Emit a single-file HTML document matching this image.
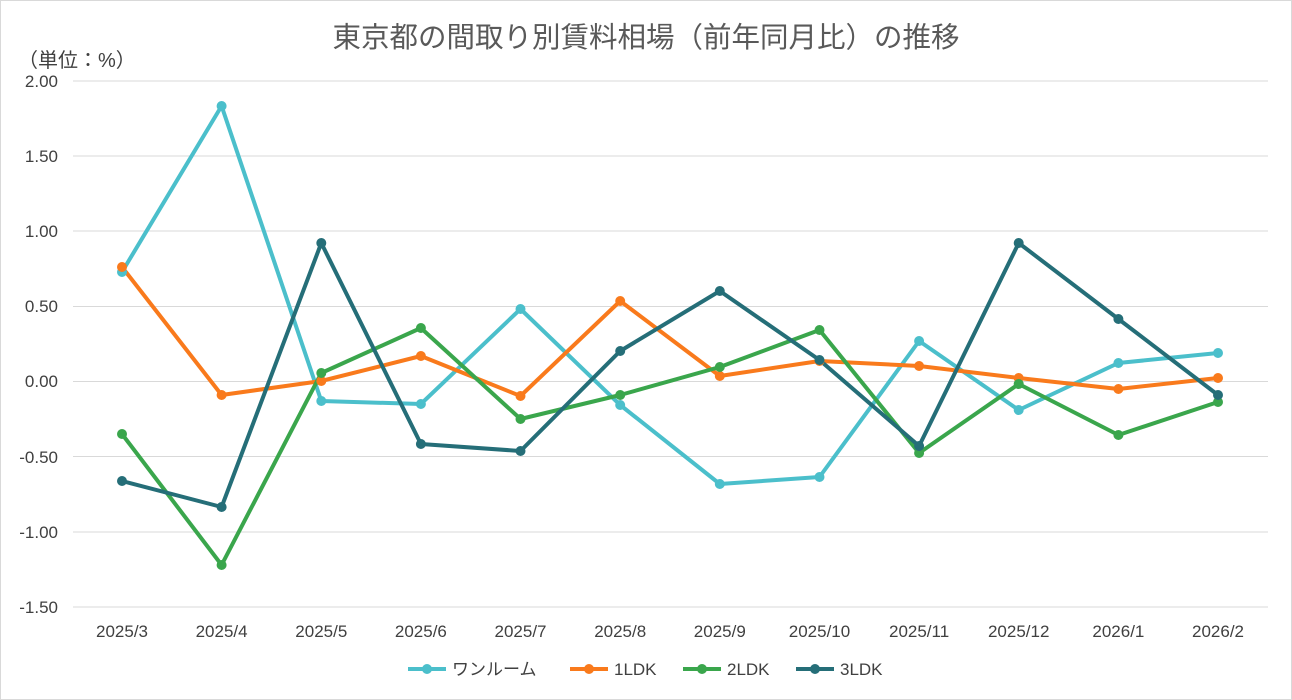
<!DOCTYPE html>
<html><head><meta charset="utf-8"><style>
body{margin:0;background:#fff;}
svg{display:block;font-family:"Liberation Sans","Noto Sans CJK JP",sans-serif;}
</style></head><body>
<svg width="1292" height="700" viewBox="0 0 1292 700">
<rect x="0.5" y="0.5" width="1291" height="699" fill="#fff" stroke="#d9d9d9"/>
<text x="646" y="47" text-anchor="middle" font-size="28.5" fill="#595959">東京都の間取り別賃料相場（前年同月比）の推移</text>
<text x="18" y="67" font-size="20" fill="#404040">（単位：%）</text>
<g stroke="#d9d9d9" stroke-width="1">
<line x1="73" y1="81" x2="1268" y2="81"/><line x1="73" y1="156" x2="1268" y2="156"/>
<line x1="73" y1="231" x2="1268" y2="231"/><line x1="73" y1="306.5" x2="1268" y2="306.5"/>
<line x1="73" y1="456.5" x2="1268" y2="456.5"/>
<line x1="73" y1="532" x2="1268" y2="532"/><line x1="73" y1="607" x2="1268" y2="607"/>
</g>
<line x1="73" y1="381.5" x2="1268" y2="381.5" stroke="#d9d9d9"/>
<g font-size="17" fill="#404040" text-anchor="end">
<text x="58" y="87">2.00</text><text x="58" y="162">1.50</text><text x="58" y="237">1.00</text>
<text x="58" y="312">0.50</text><text x="58" y="387">0.00</text><text x="58" y="463">-0.50</text>
<text x="58" y="538">-1.00</text><text x="58" y="613">-1.50</text>
</g>
<g font-size="17" fill="#404040" text-anchor="middle">
<text x="122" y="637">2025/3</text><text x="221.6" y="637">2025/4</text><text x="321.3" y="637">2025/5</text>
<text x="420.9" y="637">2025/6</text><text x="520.5" y="637">2025/7</text><text x="620.2" y="637">2025/8</text>
<text x="719.8" y="637">2025/9</text><text x="819.5" y="637">2025/10</text><text x="919.1" y="637">2025/11</text>
<text x="1018.7" y="637">2025/12</text><text x="1118.4" y="637">2026/1</text><text x="1218" y="637">2026/2</text>
</g>
<g fill="none" stroke-width="4" stroke-linejoin="round">
<polyline stroke="#4bbfcb" points="122,272 221.6,106 321.3,401 420.9,404 520.5,309 620.2,405 719.8,484 819.5,477 919.1,341 1018.7,410 1118.4,363 1218,353"/>
<polyline stroke="#f97a1c" points="122,267 221.6,395 321.3,381 420.9,356 520.5,396 620.2,301 719.8,376 819.5,361 919.1,366 1018.7,378 1118.4,389 1218,378"/>
<polyline stroke="#3aa64c" points="122,434 221.6,565 321.3,373 420.9,328 520.5,419 620.2,395 719.8,367 819.5,330 919.1,453 1018.7,384 1118.4,435 1218,402"/>
<polyline stroke="#256e78" points="122,481 221.6,507 321.3,243 420.9,444 520.5,451 620.2,351 719.8,291 819.5,360 919.1,446 1018.7,243 1118.4,319 1218,395"/>
</g>
<g fill="#4bbfcb"><circle cx="122" cy="272" r="5"/><circle cx="221.6" cy="106" r="5"/><circle cx="321.3" cy="401" r="5"/><circle cx="420.9" cy="404" r="5"/><circle cx="520.5" cy="309" r="5"/><circle cx="620.2" cy="405" r="5"/><circle cx="719.8" cy="484" r="5"/><circle cx="819.5" cy="477" r="5"/><circle cx="919.1" cy="341" r="5"/><circle cx="1018.7" cy="410" r="5"/><circle cx="1118.4" cy="363" r="5"/><circle cx="1218" cy="353" r="5"/></g>
<g fill="#f97a1c"><circle cx="122" cy="267" r="5"/><circle cx="221.6" cy="395" r="5"/><circle cx="321.3" cy="381" r="5"/><circle cx="420.9" cy="356" r="5"/><circle cx="520.5" cy="396" r="5"/><circle cx="620.2" cy="301" r="5"/><circle cx="719.8" cy="376" r="5"/><circle cx="819.5" cy="361" r="5"/><circle cx="919.1" cy="366" r="5"/><circle cx="1018.7" cy="378" r="5"/><circle cx="1118.4" cy="389" r="5"/><circle cx="1218" cy="378" r="5"/></g>
<g fill="#3aa64c"><circle cx="122" cy="434" r="5"/><circle cx="221.6" cy="565" r="5"/><circle cx="321.3" cy="373" r="5"/><circle cx="420.9" cy="328" r="5"/><circle cx="520.5" cy="419" r="5"/><circle cx="620.2" cy="395" r="5"/><circle cx="719.8" cy="367" r="5"/><circle cx="819.5" cy="330" r="5"/><circle cx="919.1" cy="453" r="5"/><circle cx="1018.7" cy="384" r="5"/><circle cx="1118.4" cy="435" r="5"/><circle cx="1218" cy="402" r="5"/></g>
<g fill="#256e78"><circle cx="122" cy="481" r="5"/><circle cx="221.6" cy="507" r="5"/><circle cx="321.3" cy="243" r="5"/><circle cx="420.9" cy="444" r="5"/><circle cx="520.5" cy="451" r="5"/><circle cx="620.2" cy="351" r="5"/><circle cx="719.8" cy="291" r="5"/><circle cx="819.5" cy="360" r="5"/><circle cx="919.1" cy="446" r="5"/><circle cx="1018.7" cy="243" r="5"/><circle cx="1118.4" cy="319" r="5"/><circle cx="1218" cy="395" r="5"/></g>
<g font-size="17" fill="#404040" stroke-width="4">
<line x1="408" y1="669" x2="446" y2="669" stroke="#4bbfcb"/><circle cx="427" cy="669" r="5" fill="#4bbfcb"/><text x="452" y="675">ワンルーム</text>
<line x1="570" y1="669" x2="608" y2="669" stroke="#f97a1c"/><circle cx="589" cy="669" r="5" fill="#f97a1c"/><text x="614" y="675">1LDK</text>
<line x1="683" y1="669" x2="721" y2="669" stroke="#3aa64c"/><circle cx="702" cy="669" r="5" fill="#3aa64c"/><text x="727" y="675">2LDK</text>
<line x1="796" y1="669" x2="834" y2="669" stroke="#256e78"/><circle cx="815" cy="669" r="5" fill="#256e78"/><text x="840" y="675">3LDK</text>
</g>
</svg>
</body></html>
